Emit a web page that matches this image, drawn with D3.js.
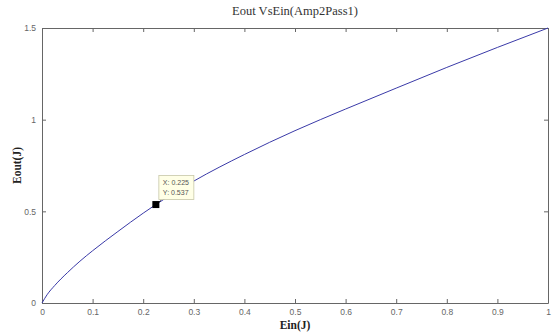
<!DOCTYPE html>
<html>
<head>
<meta charset="utf-8">
<script src="https://cdn.jsdelivr.net/npm/d3@7"></script>
<style>
body { margin:0; background:#fff; }
.serif { font-family: "Liberation Serif", "DejaVu Serif", "Times New Roman", serif; }
.sans { font-family: Arial, "Liberation Sans", sans-serif; }
</style>
</head>
<body>
<div id="chart"></div>
<script>
// values
var ein  = [0, 0.01, 0.025, 0.05, 0.075, 0.1, 0.15, 0.2, 0.225, 0.3, 0.4, 0.5, 0.6, 0.7, 0.8, 0.9, 1.0];
var eout = [0, 0.045, 0.095, 0.165, 0.228, 0.285, 0.39, 0.49, 0.537, 0.665, 0.81, 0.94, 1.058, 1.172, 1.285, 1.394, 1.5];
var xTicks = [0, 0.1, 0.2, 0.3, 0.4, 0.5, 0.6, 0.7, 0.8, 0.9, 1];
var yTicks = [0, 0.5, 1, 1.5];
var tip = {x: 0.225, y: 0.537};

var W = 556, H = 334;
var margin = {top: 28, left: 42, right: 8, bot: 31};
var w = W - margin.left - margin.right,
    h = H - margin.top - margin.bot;

var svg = d3.select("#chart").append("svg")
    .attr("width", W).attr("height", H);
var g = svg.append("g")
    .attr("transform", "translate(" + margin.left + "," + margin.top + ")");

var x = d3.scaleLinear().domain([0, 1]).range([0, w]);
var y = d3.scaleLinear().domain([0, 1.5]).range([h, 0]);

// axes, matlab style box with inward ticks
var axCol = "#666";
function style_axis(sel, labels) {
    sel.select(".domain").attr("stroke", axCol);
    sel.selectAll(".tick line").attr("stroke", axCol);
    sel.selectAll(".tick text")
        .attr("class", "sans")
        .attr("fill", labels ? "#666" : "none")
        .attr("font-family", null)
        .attr("font-size", "8.5px");
}
g.append("g").attr("transform", "translate(0," + h + ")")
    .call(d3.axisBottom(x).tickValues(xTicks).tickSizeInner(-4).tickSizeOuter(0).tickPadding(6).tickFormat(d3.format("")))
    .call(style_axis, true);
g.append("g")
    .call(d3.axisTop(x).tickValues(xTicks).tickSizeInner(-4).tickSizeOuter(0).tickFormat(""))
    .call(style_axis, false);
g.append("g")
    .call(d3.axisLeft(y).tickValues(yTicks).tickSizeInner(-4).tickSizeOuter(0).tickPadding(6).tickFormat(d3.format("")))
    .call(style_axis, true);
g.append("g").attr("transform", "translate(" + w + ",0)")
    .call(d3.axisRight(y).tickValues(yTicks).tickSizeInner(-4).tickSizeOuter(0).tickFormat(""))
    .call(style_axis, false);
g.selectAll("g").attr("font-family", null);

// curve
var pts = ein.map(function(d, i) { return {x: d, y: eout[i]}; });
g.append("path")
    .datum(pts)
    .attr("fill", "none")
    .attr("stroke", "#3a3aa8")
    .attr("stroke-width", 1)
    .attr("d", d3.line().x(function(d) { return x(d.x); })
                        .y(function(d) { return y(d.y); })
                        .curve(d3.curveMonotoneX));

// data tip
var tx = x(tip.x), ty = y(tip.y);
g.append("line")
    .attr("x1", tx).attr("y1", ty).attr("x2", tx + 5).attr("y2", ty - 4)
    .attr("stroke", "#222").attr("stroke-width", 1);
g.append("rect")
    .attr("x", tx - 3.5).attr("y", ty - 3.5)
    .attr("width", 7).attr("height", 7)
    .attr("fill", "#000");
var box = g.append("g").attr("transform", "translate(" + (tx + 3) + "," + (ty - 29) + ")");
box.append("rect")
    .attr("width", 35).attr("height", 24)
    .attr("fill", "#ffffe6").attr("stroke", "#c8c8a8").attr("stroke-width", 0.8);
box.selectAll("text").data(["X: " + tip.x, "Y: " + tip.y]).enter()
    .append("text")
    .attr("class", "sans")
    .attr("x", 4).attr("y", function(d, i) { return 9 + i * 10; })
    .attr("fill", "#555")
    .attr("font-size", "7px")
    .text(function(d) { return d; });

// title and labels
svg.append("text")
    .attr("class", "serif")
    .attr("x", margin.left + w / 2).attr("y", 15)
    .attr("text-anchor", "middle")
    .attr("font-size", "12.5px")
    .attr("fill", "#333")
    .text("Eout VsEin(Amp2Pass1)");
svg.append("text")
    .attr("class", "serif")
    .attr("x", margin.left + w / 2).attr("y", 329)
    .attr("text-anchor", "middle")
    .attr("font-size", "11.5px")
    .attr("font-weight", "bold")
    .attr("fill", "#222")
    .text("Ein(J)");
svg.append("text")
    .attr("class", "serif")
    .attr("transform", "translate(21," + (margin.top + h / 2) + ") rotate(-90)")
    .attr("text-anchor", "middle")
    .attr("font-size", "11.5px")
    .attr("font-weight", "bold")
    .attr("fill", "#222")
    .text("Eout(J)");
</script>
</body>
</html>
